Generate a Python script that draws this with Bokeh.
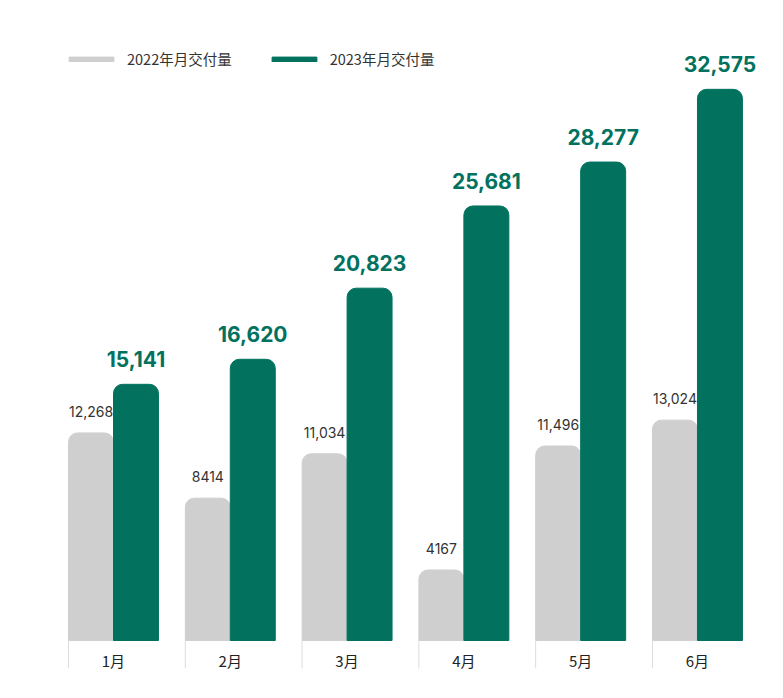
from bokeh.plotting import figure
from bokeh.models import ColumnDataSource, Legend, LegendItem
from bokeh.embed import file_html
from bokeh.resources import INLINE
from bokeh.core.properties import value

# data
months = ["1月", "2月", "3月", "4月", "5月", "6月"]
deliv_2022 = [12268, 8414, 11034, 4167, 11496, 13024]
deliv_2023 = [15141, 16620, 20823, 25681, 28277, 32575]
labels_2022 = ["12,268", "8414", "11,034", "4167", "11,496", "13,024"]
labels_2023 = ["15,141", "16,620", "20,823", "25,681", "28,277", "32,575"]
series_names = ["2022年月交付量", "2023年月交付量"]

GRAY = "#cfcfcf"
GREEN = "#02725f"
NUM_FONT = "Inter"
CJK_FONT = "Noto Sans CJK SC"

idx = list(range(len(months)))
bar_w = 0.385
src = ColumnDataSource(dict(
    x22=[i + 0.193 for i in idx],
    x23=[i + 0.578 for i in idx],
    xc=[i + 0.385 for i in idx],
    xl=idx,
    y22=deliv_2022,
    y23=deliv_2023,
    lab22=labels_2022,
    lab23=labels_2023,
    month=months,
))

p = figure(width=767, height=682, x_range=(-0.582, 5.985), y_range=(-2482, 37825),
           output_backend="svg", toolbar_location=None,
           min_border_left=0, min_border_right=0, min_border_top=0, min_border_bottom=0)
p.axis.visible = False
p.grid.visible = False
p.outline_line_color = None

r22 = p.vbar(x="x22", top="y22", width=bar_w, source=src, color=GRAY,
             border_radius=(9, 9, 0, 0))
r23 = p.vbar(x="x23", top="y23", width=bar_w, source=src, color=GREEN,
             border_radius=(9, 9, 0, 0))

# value labels
p.text(x="x22", y="y22", text="lab22", source=src, text_align="center",
       text_baseline="bottom", y_offset=-16, text_font=value(NUM_FONT),
       text_font_size="14px", text_color="#333333")
p.text(x="x23", y="y23", text="lab23", source=src, text_align="center",
       text_baseline="bottom", y_offset=-17, text_font=value(NUM_FONT),
       text_font_size="21px", text_font_style="bold", text_color=GREEN)

# category band below bars
p.segment(x0="xl", y0=0, x1="xl", y1=-1650, source=src, line_color="#dddddd", line_width=1)
p.text(x="xc", y=-1180, text="month", source=src, text_align="center",
       text_baseline="middle", text_font=value(CJK_FONT), text_font_size="15px",
       text_color="#222222")

legend = Legend(items=[LegendItem(label=series_names[0], renderers=[r22]),
                       LegendItem(label=series_names[1], renderers=[r23])],
                orientation="horizontal", location=(63, 613),
                glyph_width=56, glyph_height=6, label_height=16,
                label_text_font=CJK_FONT, label_text_font_size="14.5px",
                label_text_color="#333333", label_standoff=8, spacing=34,
                padding=0, margin=0, background_fill_alpha=0, border_line_color=None)
p.add_layout(legend, "center")

open("out.html", "w").write(file_html(p, INLINE))
